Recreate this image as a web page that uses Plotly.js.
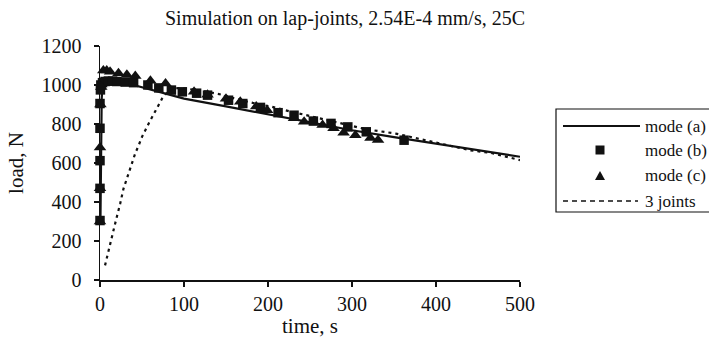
<!DOCTYPE html>
<html>
<head>
<meta charset="utf-8">
<script src="https://cdn.plot.ly/plotly-3.0.1.min.js"></script>
<style>html,body{margin:0;padding:0;background:#fff;}#chart{width:709px;height:345px;}</style>
</head>
<body>
<div id="chart"></div>
<script>
// ---- data ----
const modeA_x = [0.5, 1.2, 2, 3, 5, 10, 20, 30, 40, 50, 60, 70, 86, 100, 150, 200, 250, 300, 350, 400, 450, 500];
const modeA_y = [290, 700, 930, 995, 1018, 1025, 1020, 1012, 1000, 988, 976, 964, 945, 930, 890, 850, 808, 768, 733, 700, 666, 632];

const modeB_x = [0, 0, 0, 0, 0, 0.5, 1, 3, 6, 10, 15, 20, 30, 40, 57, 70, 85, 98, 115, 128, 153, 170, 191, 212, 231, 254, 275, 295, 317, 362];
const modeB_y = [305, 470, 612, 778, 905, 975, 1000, 1012, 1018, 1020, 1020, 1018, 1015, 1012, 1000, 985, 974, 965, 958, 948, 922, 905, 885, 858, 845, 815, 803, 785, 760, 717];

const modeC_x = [0, 0, 0, 0.5, 1.5, 4, 8, 12, 22, 32, 42, 60, 78, 112, 128, 150, 167, 186, 199, 231, 243, 265, 278, 290, 304, 322, 331];
const modeC_y = [300, 470, 680, 900, 990, 1075, 1075, 1068, 1060, 1053, 1046, 1022, 1008, 965, 950, 930, 914, 890, 870, 830, 812, 795, 778, 755, 742, 728, 718];

const joints_x = [6, 10, 14, 18, 24, 28, 34, 38, 42, 46, 50, 58, 64, 68, 74, 80, 86, 100, 120, 144, 160, 182, 205, 220, 262, 294, 318, 352, 383, 441, 465, 485, 500];
const joints_y = [75, 151, 220, 289, 391, 469, 546, 600, 650, 690, 734, 803, 850, 888, 931, 962, 985, 982, 972, 951, 931, 908, 888, 871, 828, 794, 772, 751, 720, 665, 652, 631, 615];

const xTicks = [0, 100, 200, 300, 400, 500];
const yTicks = [0, 200, 400, 600, 800, 1000, 1200];
const legendNames = ["mode (a)", "mode (b)", "mode (c)", "3 joints"];

// ---- layout helpers (pixel -> paper) ----
const L = 100, R = 189, T = 46, B = 65, W = 709, H = 345;
const PW = W - L - R, PH = H - T - B;
const px = v => (v - L) / PW;
const py = v => (H - B - v) / PH;
const serif = "Liberation Serif, Times New Roman, serif";
const ink = "#111";

const traces = [
  {x: modeA_x, y: modeA_y, mode: "lines", name: legendNames[0],
   line: {color: ink, width: 2.2}, cliponaxis: false},
  {x: modeB_x, y: modeB_y, mode: "markers", name: legendNames[1],
   marker: {symbol: "square", size: 9.5, color: ink}, cliponaxis: false},
  {x: modeC_x, y: modeC_y, mode: "markers", name: legendNames[2],
   marker: {symbol: "triangle-up", size: 11, color: ink}, cliponaxis: false},
  {x: joints_x, y: joints_y, mode: "lines", name: legendNames[3],
   line: {color: ink, width: 2.2, dash: "3px,4px"}, cliponaxis: false}
];

const rows = [126, 150, 175.5, 201];
const shapes = [
  {type: "rect", xref: "paper", yref: "paper", x0: px(556), x1: px(716), y0: py(212), y1: py(109),
   line: {color: ink, width: 1.2}, fillcolor: "rgba(0,0,0,0)"},
  {type: "line", xref: "paper", yref: "paper", x0: px(563), x1: px(640), y0: py(rows[0]), y1: py(rows[0]),
   line: {color: ink, width: 2}},
  {type: "rect", xref: "paper", yref: "paper", xsizemode: "pixel", ysizemode: "pixel",
   xanchor: px(600), yanchor: py(rows[1]), x0: -4.5, x1: 4.5, y0: -4.5, y1: 4.5,
   line: {width: 0}, fillcolor: ink},
  {type: "path", xref: "paper", yref: "paper", xsizemode: "pixel", ysizemode: "pixel",
   xanchor: px(600), yanchor: py(rows[2]), path: "M-5,-4.5 L5,-4.5 L0,4.5 Z",
   line: {width: 0}, fillcolor: ink},
  {type: "line", xref: "paper", yref: "paper", x0: px(563), x1: px(638), y0: py(rows[3]), y1: py(rows[3]),
   line: {color: ink, width: 1.6, dash: "5px,4px"}}
];

const annotations = legendNames.map((t, i) => ({
  text: t, xref: "paper", yref: "paper", x: px(643), y: py(rows[i]),
  xanchor: "left", yanchor: "middle", showarrow: false,
  font: {family: serif, size: 17, color: ink}
}));

const layout = {
  width: W, height: H,
  margin: {l: L, r: R, t: T, b: B},
  paper_bgcolor: "#fff", plot_bgcolor: "#fff",
  showlegend: false,
  title: {text: "Simulation on lap-joints, 2.54E-4 mm/s, 25C", xref: "container", x: 345 / W, xanchor: "center",
          yref: "container", y: 1 - 18 / H, yanchor: "middle",
          font: {family: serif, size: 20, color: ink}},
  xaxis: {range: [0, 500], tickvals: xTicks, ticktext: xTicks.map(String), showgrid: false, zeroline: false,
          showline: true, linecolor: ink, linewidth: 1.5, ticks: "outside", ticklen: 5, tickwidth: 1.5, tickcolor: ink,
          tickfont: {family: serif, size: 20, color: ink}, ticklabelstandoff: 0,
          title: {text: "time, s", font: {family: serif, size: 21, color: ink}, standoff: 2}},
  yaxis: {range: [0, 1200], tickvals: yTicks, ticktext: yTicks.map(String), showgrid: false, zeroline: false,
          showline: true, linecolor: ink, linewidth: 1.5, ticks: "outside", ticklen: 5, tickwidth: 1.5, tickcolor: ink,
          tickfont: {family: serif, size: 20, color: ink}, ticklabelstandoff: 8,
          title: {text: "load, N", font: {family: serif, size: 21, color: ink}, standoff: 12}},
  shapes: shapes,
  annotations: annotations
};

Plotly.newPlot("chart", traces, layout, {displayModeBar: false, staticPlot: true});
</script>
</body>
</html>
